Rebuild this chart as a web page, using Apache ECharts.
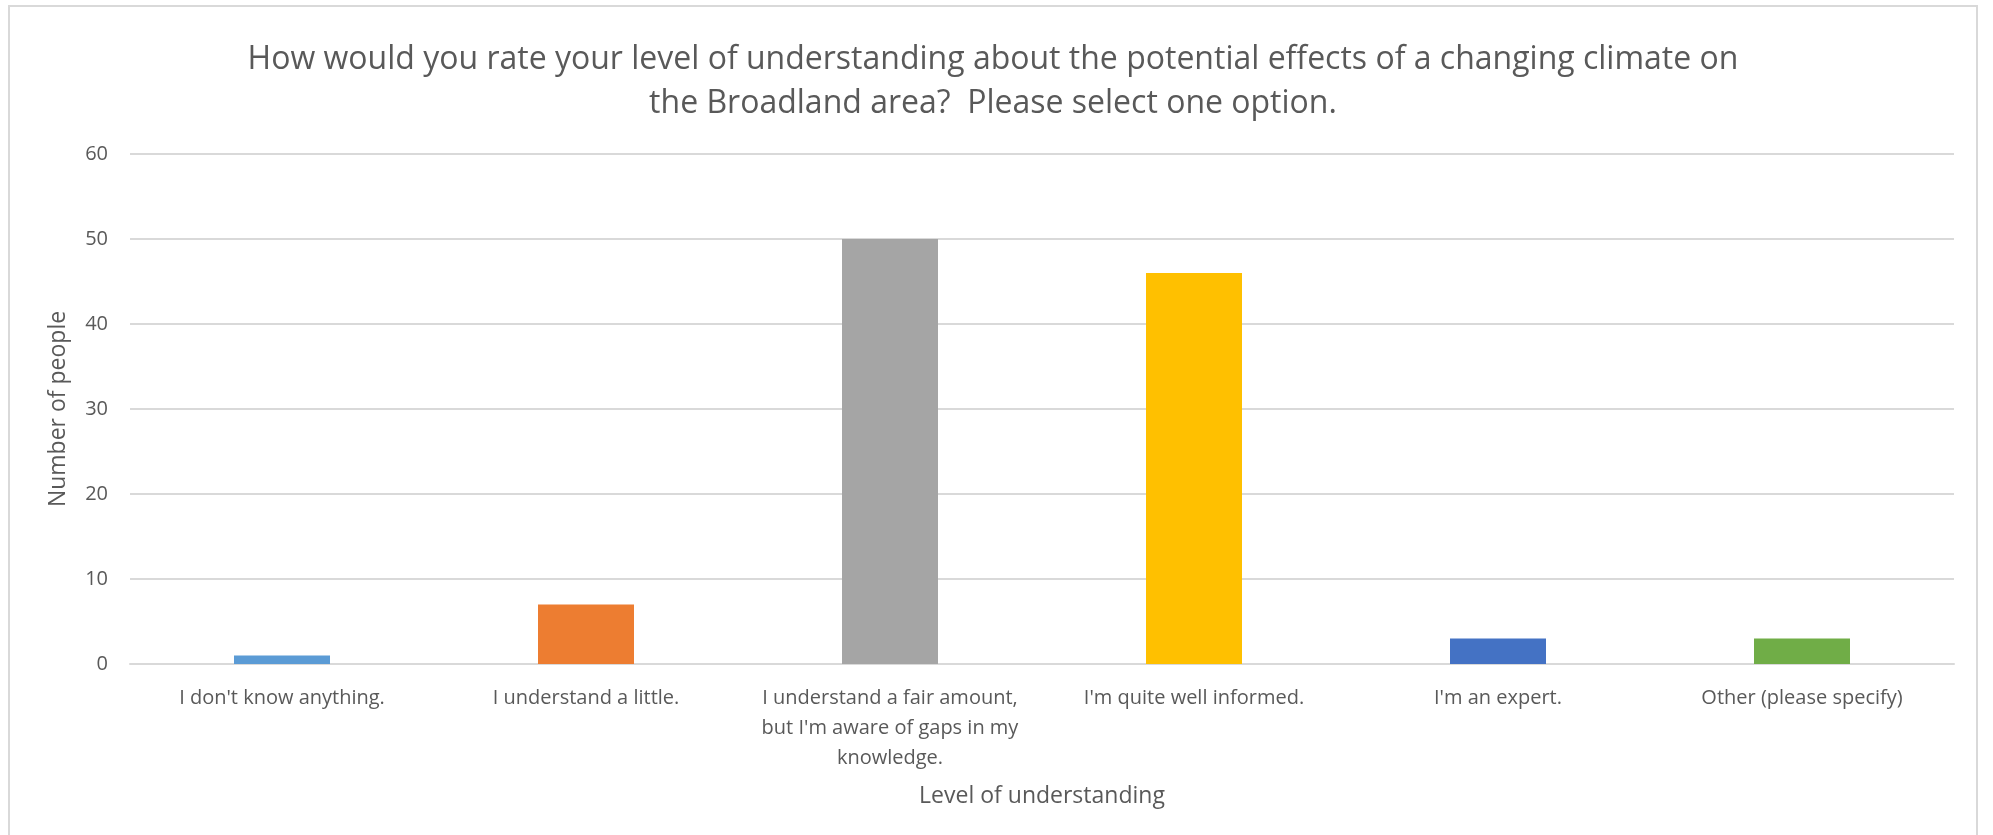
<!DOCTYPE html>
<html>
<head>
<meta charset="utf-8">
<script src="https://cdn.jsdelivr.net/npm/echarts@6/dist/echarts.min.js"></script>
<style>
  html, body { margin: 0; padding: 0; background: #ffffff; }
  #chart { width: 1993px; height: 835px; }
</style>
</head>
<body>
<div id="chart"></div>
<script>
// Survey answers: level of understanding of climate change effects
const categories = [
  "I don't know anything.",
  "I understand a little.",
  "I understand a fair amount,\nbut I'm aware of gaps in my\nknowledge.",
  "I'm quite well informed.",
  "I'm an expert.",
  "Other (please specify)"
];
const counts = [1, 7, 50, 46, 3, 3];
const barColors = ["#5B9BD5", "#ED7D31", "#A5A5A5", "#FFC000", "#4472C4", "#70AD47"];
const titleLines = [
  "How would you rate your level of understanding about the potential effects of a changing climate on",
  "the Broadland area?  Please select one option."
];
const xAxisName = "Level of understanding";
const yAxisName = "Number of people";

const font = "'Open Sans', 'Noto Sans', sans-serif";
const textColor = "#595959";

// centred two-line heading, drawn as graphic text so each line centres on its own
const titleGraphics = titleLines.map((line, i) => ({
  type: 'text',
  x: 993,
  y: 60 + i * 44,
  silent: true,
  style: {
    text: line,
    fill: textColor,
    font: '32px ' + font,
    textAlign: 'center',
    textVerticalAlign: 'middle'
  }
}));

const chart = echarts.init(document.getElementById('chart'));
chart.setOption({
  backgroundColor: '#ffffff',
  animation: false,
  textStyle: { fontFamily: font, color: textColor },
  graphic: [{
    type: 'rect',
    shape: { x: 9, y: 6, width: 1968, height: 900 },
    style: { fill: 'none', stroke: '#D9D9D9', lineWidth: 2 },
    silent: true,
    z: -1
  }].concat(titleGraphics),
  grid: { left: 130, right: 39, top: 154, bottom: 171, containLabel: false },
  xAxis: {
    type: 'category',
    data: categories,
    name: xAxisName,
    nameLocation: 'middle',
    nameGap: 121,
    nameTextStyle: { fontFamily: font, fontSize: 23, color: textColor },
    axisLine: { show: true, lineStyle: { color: '#D9D9D9', width: 2 } },
    axisTick: { show: false },
    axisLabel: {
      interval: 0,
      margin: 19,
      fontFamily: font,
      fontSize: 20,
      lineHeight: 30,
      color: textColor,
      align: 'center'
    }
  },
  yAxis: {
    type: 'value',
    min: 0,
    max: 60,
    interval: 10,
    name: yAxisName,
    nameLocation: 'middle',
    nameGap: 60,
    nameRotate: 90,
    nameTextStyle: { fontFamily: font, fontSize: 23, color: textColor },
    axisLine: { show: false },
    axisTick: { show: false },
    axisLabel: { margin: 22, fontFamily: font, fontSize: 20, color: textColor },
    splitLine: { lineStyle: { color: '#D9D9D9', width: 2 } }
  },
  series: [{
    type: 'bar',
    barWidth: 96,
    data: counts.map((v, i) => ({ value: v, itemStyle: { color: barColors[i] } }))
  }]
});
</script>
</body>
</html>
